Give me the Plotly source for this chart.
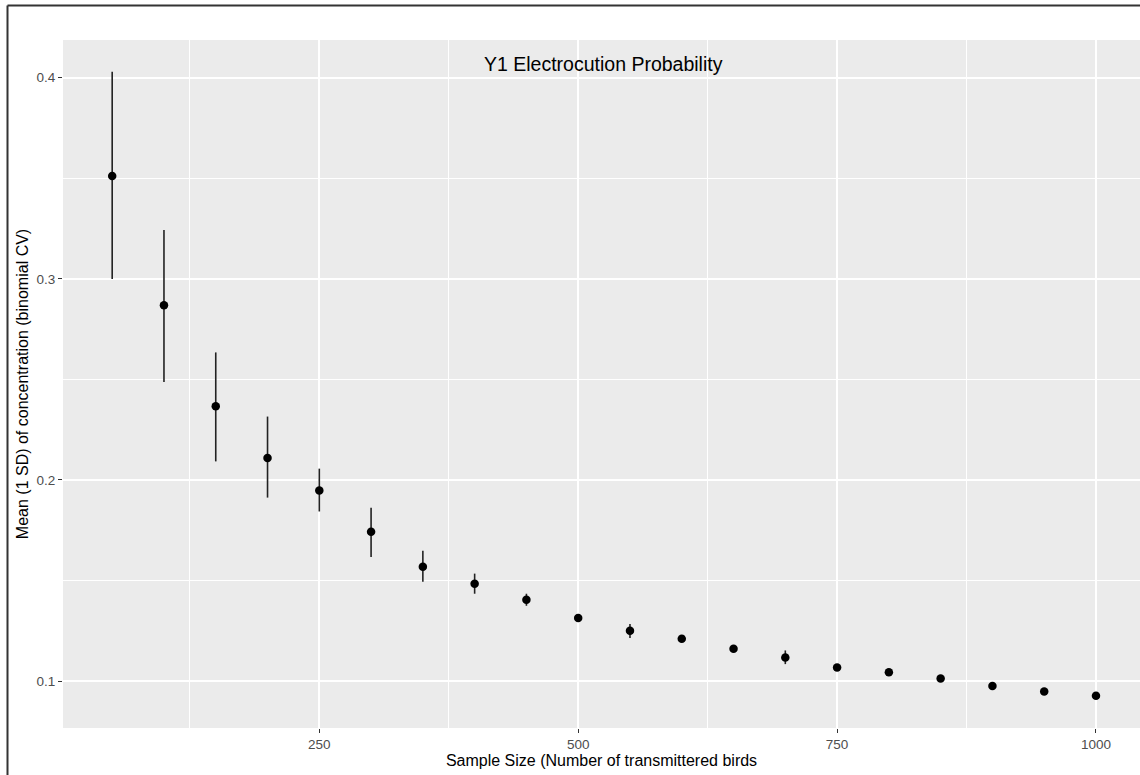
import plotly.graph_objects as go

sample_size = [50, 100, 150, 200, 250, 300, 350, 400, 450, 500,
               550, 600, 650, 700, 750, 800, 850, 900, 950, 1000]
mean_cv = [0.3511, 0.2868, 0.2366, 0.2109, 0.1947, 0.1742, 0.1568, 0.1484, 0.1404, 0.1313,
           0.1250, 0.1210, 0.1160, 0.1117, 0.1067, 0.1043, 0.1013, 0.0975, 0.0948, 0.0927]
upper = [0.4029, 0.3243, 0.2634, 0.2315, 0.2056, 0.1861, 0.1648, 0.1534, 0.1434, 0.1328,
         0.1283, 0.1225, 0.1175, 0.1152, 0.1080, 0.1055, 0.1025, 0.0987, 0.0958, 0.0937]
lower = [0.2999, 0.2487, 0.2092, 0.1912, 0.1843, 0.1617, 0.1494, 0.1434, 0.1374, 0.1298,
         0.1214, 0.1195, 0.1145, 0.1084, 0.1054, 0.1031, 0.1001, 0.0963, 0.0938, 0.0917]

x_ticks = [250, 500, 750, 1000]
y_ticks = [0.1, 0.2, 0.3, 0.4]
y_tick_text = ["0.1", "0.2", "0.3", "0.4"]

err_plus = [u - m for u, m in zip(upper, mean_cv)]
err_minus = [m - l for m, l in zip(mean_cv, lower)]

FONT = "Liberation Sans, Arial, sans-serif"

fig = go.Figure()
fig.add_trace(go.Scatter(
    x=sample_size, y=mean_cv, mode="markers",
    marker=dict(color="black", size=8.5),
    error_y=dict(type="data", symmetric=False, array=err_plus, arrayminus=err_minus,
                 color="#222222", thickness=1.6, width=0),
    showlegend=False,
))

W, H = 1140, 775
pl, pr, pt, pb = 63, 1140, 40, 728
pw, ph = pr - pl, pb - pt

def px_x(p):
    return (p - pl) / pw

def px_y(p):
    return (pb - p) / ph

fig.update_layout(
    width=W, height=H,
    margin=dict(l=pl, r=W - pr, t=pt, b=H - pb),
    paper_bgcolor="white",
    plot_bgcolor="#EBEBEB",
    font=dict(family=FONT, color="#4D4D4D"),
    xaxis=dict(
        range=[2.5, 1042.5], tickvals=x_ticks, ticks="outside", ticklen=4,
        tickcolor="#333333", tickwidth=1, showgrid=True, gridcolor="white", gridwidth=1.5,
        zeroline=False, showline=False,
        tickfont=dict(size=13.5, color="#4D4D4D"),
        minor=dict(tickvals=[125, 375, 625, 875], showgrid=True, gridcolor="white",
                   gridwidth=0.8, ticks=""),
        title=dict(text="Sample Size (Number of transmittered birds",
                   font=dict(size=16, color="black"), standoff=3),
    ),
    yaxis=dict(
        range=[0.07663, 0.41875], tickvals=y_ticks, ticktext=y_tick_text, ticks="outside",
        ticklen=4, tickcolor="#333333", tickwidth=1, showgrid=True, gridcolor="white",
        gridwidth=1.5, zeroline=False, showline=False,
        tickfont=dict(size=13.5, color="#4D4D4D"),
        minor=dict(tickvals=[0.15, 0.25, 0.35], showgrid=True, gridcolor="white",
                   gridwidth=0.8, ticks=""),
        title=dict(text="Mean (1 SD) of concentration (binomial CV)",
                   font=dict(size=16, color="black"), standoff=3),
    ),
    annotations=[dict(
        text="Y1 Electrocution Probability", x=px_x(603.5), y=px_y(64),
        xref="paper", yref="paper", showarrow=False,
        font=dict(size=19.5, color="black", family=FONT),
        xanchor="center", yanchor="middle",
    )],
    shapes=[
        dict(type="line", xref="paper", yref="paper",
             x0=px_x(7.5), x1=px_x(W + 5), y0=px_y(5.5), y1=px_y(5.5),
             line=dict(color="#333333", width=2)),
        dict(type="line", xref="paper", yref="paper",
             x0=px_x(7.5), x1=px_x(7.5), y0=px_y(5.5), y1=px_y(H + 5),
             line=dict(color="#333333", width=2)),
    ],
)

fig.write_html(
    "out.html",
    config={"displayModeBar": False},
    post_script="document.body.style.margin='0';document.body.style.overflow='hidden';",
)
